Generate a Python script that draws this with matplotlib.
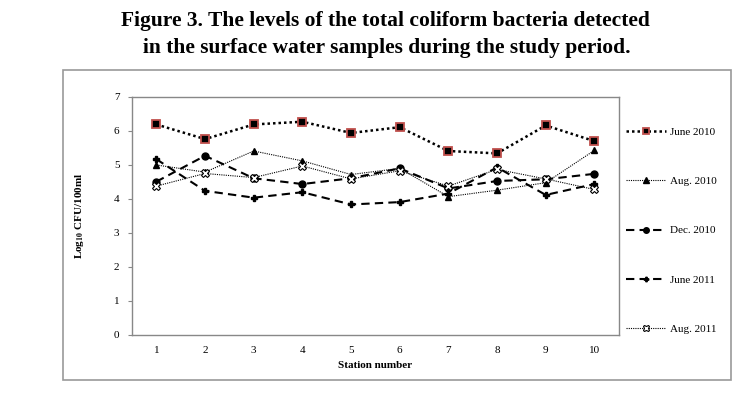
import numpy as np
import matplotlib
matplotlib.use("Agg")
import matplotlib.pyplot as plt
from matplotlib.patches import Rectangle

plt.rcParams['font.family'] = ['Liberation Serif', 'DejaVu Serif']
plt.rcParams['mathtext.fontset'] = 'stix'

stations = [1, 2, 3, 4, 5, 6, 7, 8, 9, 10]
june_2010 = [6.18, 5.75, 6.18, 6.26, 5.93, 6.10, 5.40, 5.33, 6.15, 5.69]
aug_2010 = [4.99, 4.78, 5.40, 5.11, 4.71, 4.89, 4.06, 4.25, 4.47, 5.42]
dec_2010 = [4.50, 5.26, 4.60, 4.43, 4.60, 4.89, 4.30, 4.52, 4.57, 4.73]
june_2011 = [5.16, 4.23, 4.03, 4.19, 3.83, 3.90, 4.15, 4.92, 4.11, 4.43]
aug_2011 = [4.37, 4.74, 4.62, 4.96, 4.58, 4.82, 4.37, 4.86, 4.58, 4.27]

fig = plt.figure(figsize=(7.5, 3.94), dpi=100)
ax = fig.add_axes([0.176, 0.15, 0.649, 0.605])

# outer frame of the chart
fig.patches.append(Rectangle((63 / 750, 1 - 380 / 394), (731 - 63) / 750, (380 - 70) / 394,
                             transform=fig.transFigure, fill=False, edgecolor='#999999', lw=1.2))

ax.plot(stations, june_2010, linestyle=(0, (1, 1.2)), color='black', lw=1.8,
        marker='s', ms=5.5, mfc='black', mec='#c0504d', mew=1.3, label='June 2010')
ax.plot(stations, aug_2010, linestyle=(0, (1, 1)), color='black', lw=0.8,
        marker='^', ms=5, mfc='black', mec='black', label='Aug. 2010')
ax.plot(stations, dec_2010, linestyle=(0, (4, 2.5)), color='black', lw=1.5,
        marker='o', ms=5, mfc='black', mec='black', label='Dec. 2010')
ax.plot(stations, june_2011, linestyle=(0, (4, 2.5)), color='black', lw=1.5,
        marker='P', ms=4, mfc='black', mec='black', label='June 2011')
ax.plot(stations, aug_2011, linestyle=(0, (1, 1)), color='black', lw=0.8,
        marker='X', ms=5.5, mfc='white', mec='black', mew=0.8, label='Aug. 2011')

ax.set_xlim(0.5, 10.5)
ax.set_ylim(0, 7)
ax.set_xticks(stations)
ax.set_yticks(range(0, 8))
ax.tick_params(axis='x', length=0, labelsize=8, pad=8)
ax.tick_params(axis='y', length=3, labelsize=8, color='#888888', pad=6)
for s in ax.spines.values():
    s.set_color('#888888')
    s.set_linewidth(1.0)

ax.set_xlabel('Station number', fontsize=8, fontweight='bold', labelpad=4)
ax.set_ylabel(r'Log$_{\mathbf{10}}$ CFU/100ml', fontsize=8, fontweight='bold', labelpad=20)

ax.legend(loc='upper left', bbox_to_anchor=(1.005, 0.89), frameon=False, fontsize=8,
          handlelength=3.6, handletextpad=0.35, labelspacing=3.55, borderaxespad=0,
          markerscale=0.8)

fig.text(0.514, 0.946, 'Figure 3. The levels of the total coliform bacteria detected',
         ha='center', va='center', fontsize=15.5, fontweight='bold')
fig.text(0.516, 0.877, 'in the surface water samples during the study period.',
         ha='center', va='center', fontsize=15.5, fontweight='bold')

fig.savefig('out.png', dpi=100)
